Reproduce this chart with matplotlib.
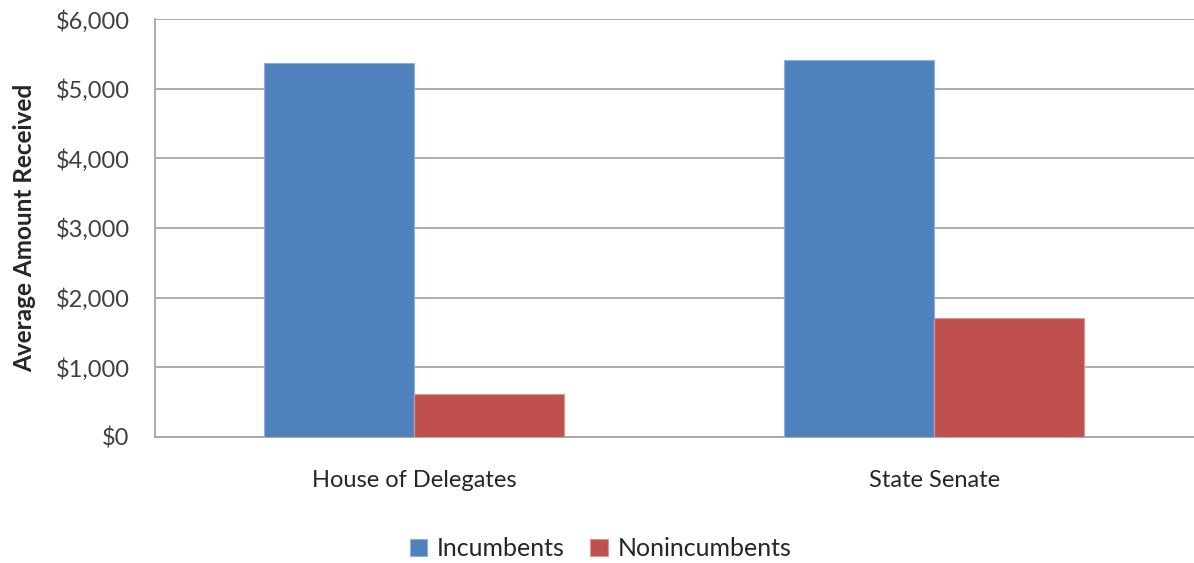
import matplotlib
matplotlib.use("Agg")
import matplotlib.pyplot as plt
import numpy as np
from matplotlib.ticker import FuncFormatter

categories = ["House of Delegates", "State Senate"]
incumbents = [5373, 5410]
nonincumbents = [608, 1700]
series_names = ["Incumbents", "Nonincumbents"]

plt.rcParams['font.family'] = ['Lato', 'DejaVu Sans']

fig = plt.figure(figsize=(11.94, 5.63), dpi=100)
ax = fig.add_axes([0.1294, 0.2243, 0.8706, 0.7414])

x = np.arange(len(categories))
w = 0.2885
ax.bar(x - w/2, incumbents, w, color="#4F81BD", edgecolor="#8DB0DC", linewidth=0.8,
       label=series_names[0], zorder=3)
ax.bar(x + w/2, nonincumbents, w, color="#C0504D", edgecolor="#D99593", linewidth=0.8,
       label=series_names[1], zorder=3)

ax.set_xlim(-0.5, len(categories) - 0.5)
ax.set_ylim(0, 6000)
ax.set_yticks(np.arange(0, 6001, 1000))
ax.yaxis.set_major_formatter(FuncFormatter(lambda v, p: "${:,.0f}".format(v)))
ax.set_xticks(x)
ax.set_xticklabels(categories)
ax.grid(axis='y', color="#A6A6A6", linewidth=1.3, zorder=0)
ax.tick_params(axis='y', length=0, pad=18, labelsize=17, labelcolor="#404040")
ax.tick_params(axis='x', length=0, pad=24, labelsize=17, labelcolor="#262626")
for s in ["top", "right"]:
    ax.spines[s].set_visible(False)
for s in ["left", "bottom"]:
    ax.spines[s].set_color("#A6A6A6")
    ax.spines[s].set_linewidth(1.3)

ax.set_ylabel("Average Amount Received", fontsize=17.5, fontweight='bold', color="#262626", labelpad=14)

fig.legend(loc="center", bbox_to_anchor=(0.503, 0.025), ncol=2, frameon=False,
           fontsize=18, handlelength=0.7, handleheight=0.7, handletextpad=0.4,
           columnspacing=1.0, labelcolor="#262626")

fig.savefig("out.png", dpi=100)
